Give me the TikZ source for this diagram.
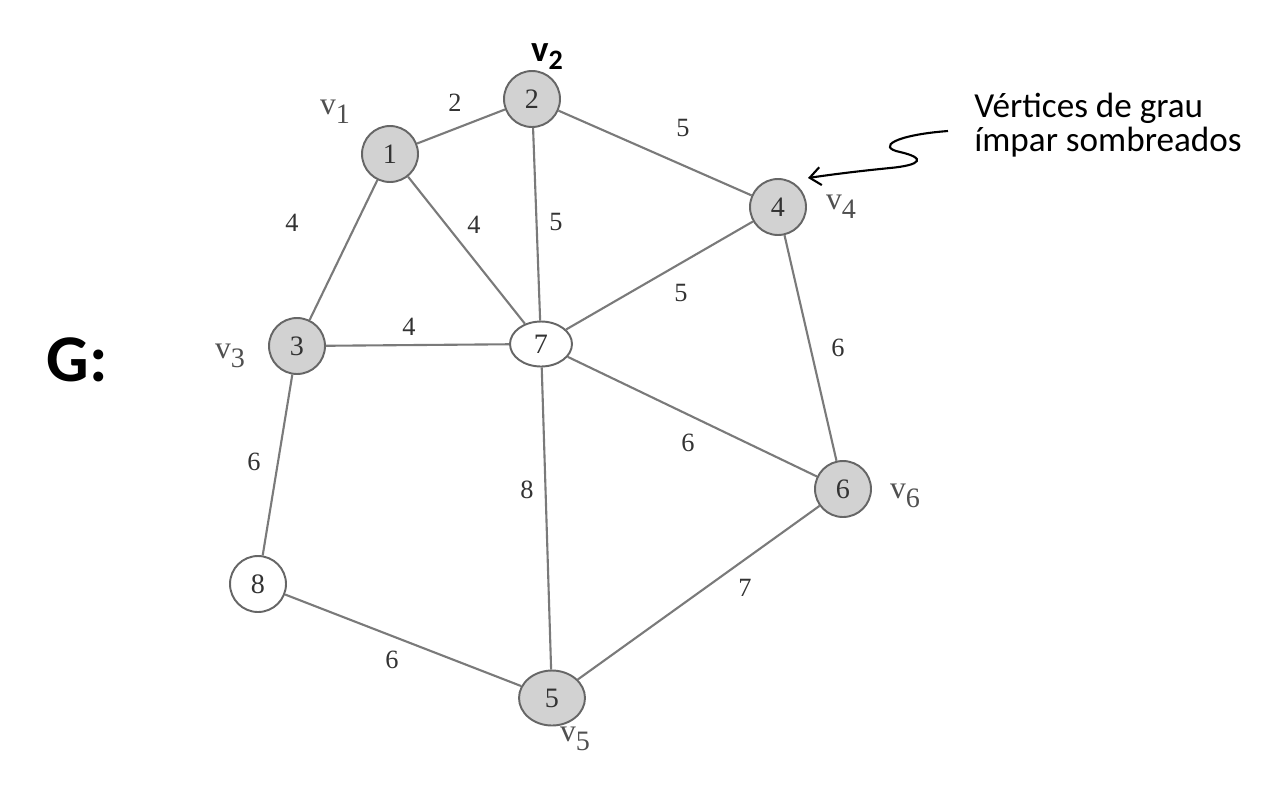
\documentclass[tikz,border=0pt]{standalone}
\usepackage{fontspec}
\setmainfont{Liberation Serif}
\newfontfamily\annfont{Carlito}
\usetikzlibrary{arrows.meta, positioning, shapes.geometric}

\definecolor{edgegray}{HTML}{7A7A7A}
\definecolor{nodefill}{HTML}{D2D2D2}
\definecolor{rimgray}{HTML}{666666}
\definecolor{labgray}{HTML}{333333}
\definecolor{vgray}{HTML}{505050}

\newcommand{\vsub}[1]{v\raisebox{-0.6ex}{\fontsize{16}{16}\selectfont #1}}

\tikzset{
  odd/.style={circle, draw=rimgray, line width=1.1pt, fill=nodefill, minimum size=1.12cm,
    inner sep=0pt, text=labgray, font=\fontsize{16}{16}\selectfont},
  even/.style={odd, fill=white},
  edge/.style={draw=edgegray, line width=1.2pt},
  wt/.style={text=labgray, font=\fontsize{15}{15}\selectfont, inner sep=1pt},
  vname/.style={text=vgray, font=\fontsize{18}{18}\selectfont, inner sep=0pt},
  note/.style={font=\annfont\fontsize{20}{19}\selectfont, align=left, inner sep=0pt},
}

\begin{document}
\begin{tikzpicture}[x=0.02cm, y=-0.02cm]
  % Graph G, odd-degree vertices shaded
  \useasboundingbox (0,0) rectangle (1274,792);

  \node[odd] (n1) at (390,154) {1};
  \node[odd] (n2) at (532,99) {2};
  \node[odd] (n3) at (297,346) {3};
  \node[odd] (n4) at (778,207) {4};
  \node[odd, ellipse, minimum width=1.32cm, minimum height=1.1cm] (n5) at (552,698) {5};
  \node[odd] (n6) at (843,489) {6};
  \node[even, ellipse, minimum width=1.24cm, minimum height=0.9cm] (n7) at (541,344) {7};
  \node[even] (n8) at (258,584) {8};

  \foreach \a/\b in {n1/n2, n2/n4, n1/n3, n1/n7, n2/n7, n4/n7, n3/n7,
                     n4/n6, n3/n8, n7/n6, n7/n5, n6/n5, n8/n5}
    \draw[edge] (\a) -- (\b);

  % edge weights
  \node[wt] (w12) at (455,103) {2};
  \node[wt] (w24) at (683,128) {5};
  \node[wt] (w13) at (292,223) {4};
  \node[wt] (w17) at (474,225) {4};
  \node[wt] (w27) at (556,222) {5};
  \node[wt] (w47) at (681,293) {5};
  \node[wt] (w37) at (409,327) {4};
  \node[wt] (w46) at (838,348) {6};
  \node[wt] (w38) at (254,462) {6};
  \node[wt] (w76) at (688,443) {6};
  \node[wt] (w75) at (527,490) {8};
  \node[wt] (w65) at (745,588) {7};
  \node[wt] (w85) at (392,660) {6};

  % vertex names
  \node[vname] (v1) at (335,112) {\vsub{1}};
  \node[vname] (v3) at (230,356) {\vsub{3}};
  \node[vname] (v4) at (841,207) {\vsub{4}};
  \node[vname] (v5) at (575,739) {\vsub{5}};
  \node[vname] (v6) at (905,496) {\vsub{6}};
  \node[font=\annfont\bfseries\fontsize{21}{21}\selectfont, inner sep=0pt] (v2) at (547,57)
    {v\raisebox{-0.45ex}{\fontsize{16}{16}\selectfont 2}};

  \node[font=\annfont\bfseries\fontsize{38}{38}\selectfont, inner sep=0pt] (gname) at (77,360) {G:};

  % note with wavy arrow
  \node[note, anchor=west] (note) at (974,125) {Vértices de grau\\ímpar sombreados};
  \coordinate (tail) at (948,131);
  \coordinate (tip) at (808,178);
  \draw[line width=1.2pt, -{Straight Barb[length=2.2mm, width=3.6mm]}]
    (tail) .. controls (895,135) and (876,147) .. (900,152)
    .. controls (926,158) and (922,165) .. (890,168)
    .. controls (860,171) and (835,174) .. (tip);
\end{tikzpicture}
\end{document}
